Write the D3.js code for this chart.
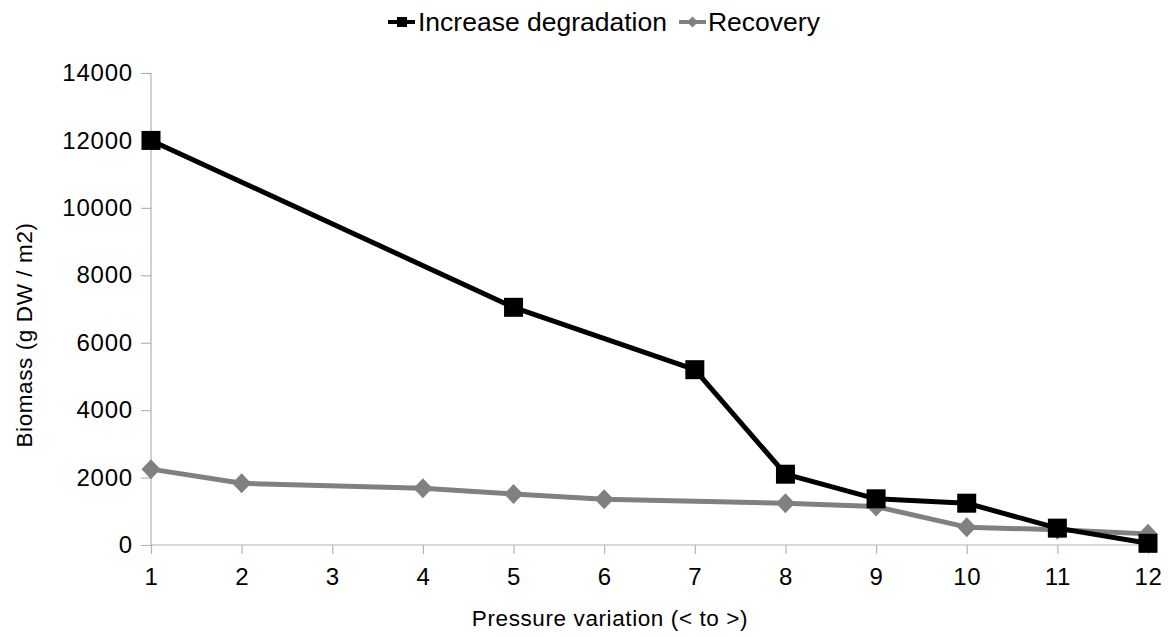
<!DOCTYPE html>
<html>
<head>
<meta charset="utf-8">
<script src="https://cdn.jsdelivr.net/npm/d3@7"></script>
<style>
  html, body { margin: 0; padding: 0; background: #fff; }
  svg { display: block; font-family: "Liberation Sans", Arial, sans-serif; }
</style>
</head>
<body>
<svg id="chart" width="1168" height="637"></svg>
<script>
// Pressure steps along the x axis
const categories = ["1", "2", "3", "4", "5", "6", "7", "8", "9", "10", "11", "12"];
// Biomass (g DW / m2); null where no measurement exists
const degradation = [12000, null, null, null, 7050, null, 5200, 2100, 1370, 1240, 500, 50];
const recovery = [2250, 1830, null, 1680, 1510, 1360, null, 1240, 1140, 530, 450, 330];
const yTicks = [0, 2000, 4000, 6000, 8000, 10000, 12000, 14000];
const seriesNames = ["Increase degradation", "Recovery"];

const svg = d3.select("#chart");
const axisColor = "#b3b3b3";
const plot = { left: 151, right: 1148, top: 73, bottom: 545 };
const fontFamily = "Liberation Sans, Arial, sans-serif";

const x = d3.scalePoint().domain(categories).range([plot.left, plot.right]).padding(0);
const y = d3.scaleLinear().domain([0, 14000]).range([plot.bottom, plot.top]);

// Y axis
const yAxis = svg.append("g")
  .attr("transform", `translate(${plot.left},0)`)
  .call(d3.axisLeft(y).tickValues(yTicks).tickSize(10).tickPadding(8).tickFormat(d3.format("d")));
yAxis.selectAll("path, line").attr("stroke", axisColor).attr("stroke-width", 1.2);
yAxis.select("path.domain").attr("d", `M0,${plot.bottom}V${plot.top}`);
yAxis.selectAll("text").attr("font-size", 24).attr("fill", "#000")
  .attr("letter-spacing", 0.8).attr("font-family", fontFamily);

// X axis
const xAxis = svg.append("g")
  .attr("transform", `translate(0,${plot.bottom})`)
  .call(d3.axisBottom(x).tickSize(9).tickPadding(14));
xAxis.selectAll("path, line").attr("stroke", axisColor).attr("stroke-width", 1.2);
xAxis.select("path.domain").attr("d", `M${plot.left},0H${plot.right}`);
xAxis.selectAll("text").attr("font-size", 24).attr("fill", "#000")
  .attr("letter-spacing", 0.6).attr("font-family", fontFamily);

// Axis titles
svg.append("text")
  .attr("x", 610).attr("y", 626)
  .attr("text-anchor", "middle")
  .attr("font-size", 22.5).attr("letter-spacing", 0.6)
  .text("Pressure variation (< to >)");

svg.append("text")
  .attr("transform", "translate(32,335) rotate(-90)")
  .attr("text-anchor", "middle")
  .attr("font-size", 22.5).attr("letter-spacing", 0.6)
  .text("Biomass (g DW / m2)");

// Series lines and markers
const lineGen = d3.line()
  .x(d => x(d.c))
  .y(d => y(d.v));

function pts(values) {
  return categories.map((c, i) => ({ c, v: values[i] })).filter(d => d.v !== null);
}

const recPts = pts(recovery);
const degPts = pts(degradation);

svg.append("path")
  .datum(recPts)
  .attr("fill", "none").attr("stroke", "#808080").attr("stroke-width", 5)
  .attr("stroke-linejoin", "round")
  .attr("d", lineGen);

svg.append("path")
  .datum(degPts)
  .attr("fill", "none").attr("stroke", "#000").attr("stroke-width", 5)
  .attr("stroke-linejoin", "round")
  .attr("d", lineGen);

function diamondPath(w, h) {
  return `M0,${-h}L${w},0L0,${h}L${-w},0Z`;
}

svg.append("g").selectAll("path")
  .data(recPts)
  .join("path")
  .attr("transform", d => `translate(${x(d.c)},${y(d.v)})`)
  .attr("d", diamondPath(9.5, 10))
  .attr("fill", "#808080");

svg.append("g").selectAll("rect")
  .data(degPts)
  .join("rect")
  .attr("x", d => x(d.c) - 9.5)
  .attr("y", d => y(d.v) - 9.5)
  .attr("width", 19).attr("height", 19)
  .attr("fill", "#000");

// Legend
const legend = svg.append("g").attr("font-size", 26.5);
const ly = 22;

legend.append("line")
  .attr("x1", 388).attr("x2", 415).attr("y1", ly).attr("y2", ly)
  .attr("stroke", "#000").attr("stroke-width", 4);
legend.append("rect")
  .attr("x", 397).attr("y", ly - 5).attr("width", 10).attr("height", 10)
  .attr("fill", "#000");
const t1 = legend.append("text")
  .attr("x", 418).attr("y", ly).attr("dy", "0.35em")
  .text(seriesNames[0]);

const x2 = 418 + t1.node().getComputedTextLength() + 12;
legend.append("line")
  .attr("x1", x2).attr("x2", x2 + 27).attr("y1", ly).attr("y2", ly)
  .attr("stroke", "#808080").attr("stroke-width", 4);
legend.append("path")
  .attr("transform", `translate(${x2 + 13.5},${ly})`)
  .attr("d", diamondPath(5.5, 5.5))
  .attr("fill", "#808080");
legend.append("text")
  .attr("x", x2 + 29).attr("y", ly).attr("dy", "0.35em")
  .text(seriesNames[1]);
</script>
</body>
</html>
